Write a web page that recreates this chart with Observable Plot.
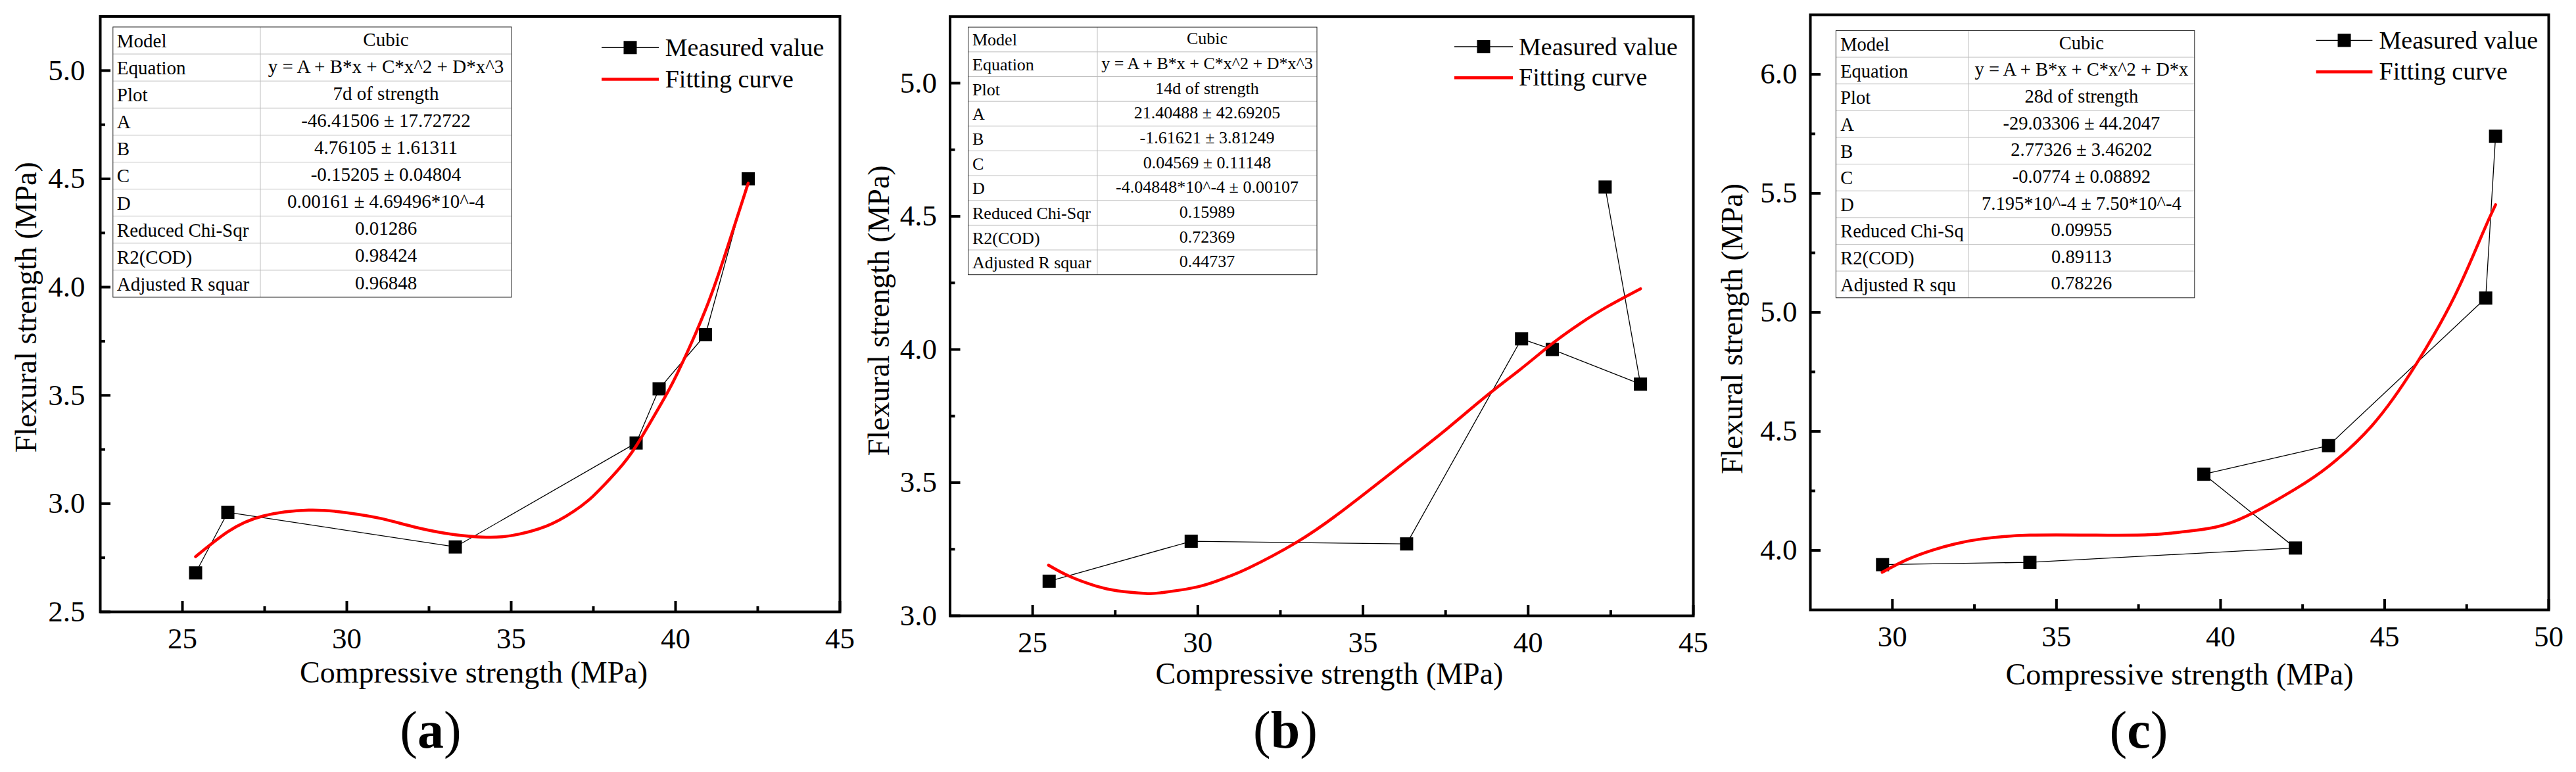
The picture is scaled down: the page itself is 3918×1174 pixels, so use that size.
<!DOCTYPE html>
<html>
<head>
<meta charset="utf-8">
<script src="https://cdn.jsdelivr.net/npm/d3@7"></script>
<script src="https://cdn.jsdelivr.net/npm/@observablehq/plot@0.6"></script>
<style>
  body { margin: 0; background: #fff; font-family: "Liberation Serif", "Times New Roman", serif; }
  #vis { display: flex; width: 3918px; height: 1174px; }
  .panel { position: relative; width: 1306px; height: 1174px; }
  .caption { position: absolute; top: 1070px; font-size: 80px; line-height: 80px; transform: translateX(-50%); white-space: nowrap; }
</style>
</head>
<body>
<div id="vis"></div>
<script>
// measured values (compressive, flexural) in plotted order
const compressive7 = [25.40, 26.38, 33.30, 38.80, 39.50, 40.91, 42.21]
const flexural7 = [2.68, 2.96, 2.80, 3.28, 3.53, 3.78, 4.50]
const compressive14 = [25.50, 29.80, 36.32, 39.80, 40.73, 43.40, 42.33]
const flexural14 = [3.13, 3.28, 3.27, 4.04, 4.00, 3.87, 4.61]
const compressive28 = [29.70, 34.19, 42.28, 39.49, 43.29, 48.08, 48.38]
const flexural28 = [3.94, 3.95, 4.01, 4.32, 4.44, 5.06, 5.74]

// fitting curves
const fitX7 = [25.40, 26.38, 27.43, 28.84, 30.00, 31.08, 32.08, 33.30, 34.24, 34.99, 36.07, 36.90, 37.50, 38.23, 38.80, 39.50, 40.06, 40.91, 41.56, 42.21]
const fitY7 = [2.755, 2.870, 2.942, 2.970, 2.958, 2.930, 2.891, 2.856, 2.845, 2.852, 2.896, 2.964, 3.036, 3.152, 3.266, 3.445, 3.603, 3.895, 4.175, 4.48]
const fitX14 = [25.48, 26.12, 26.91, 27.57, 28.43, 28.90, 30.00, 30.88, 31.53, 33.00, 34.49, 36.32, 37.54, 38.78, 39.77, 40.73, 41.58, 42.41, 43.40]
const fitY14 = [3.19, 3.148, 3.112, 3.094, 3.084, 3.087, 3.109, 3.145, 3.179, 3.277, 3.405, 3.582, 3.702, 3.830, 3.926, 4.022, 4.098, 4.162, 4.228]
const fitX28 = [29.69, 30.44, 31.24, 31.90, 32.71, 34.19, 36.21, 37.89, 39.23, 40.58, 42.28, 43.29, 44.62, 45.96, 47.14, 47.98, 48.38]
const fitY28 = [3.908, 3.961, 4.002, 4.027, 4.048, 4.064, 4.064, 4.066, 4.084, 4.131, 4.258, 4.353, 4.525, 4.782, 5.070, 5.330, 5.452]

// fit report tables
const rowLabels = ['Model', 'Equation', 'Plot', 'A', 'B', 'C', 'D', 'Reduced Chi-Sqr', 'R2(COD)', 'Adjusted R squar']
const rowLabels28 = ['Model', 'Equation', 'Plot', 'A', 'B', 'C', 'D', 'Reduced Chi-Sq', 'R2(COD)', 'Adjusted R squ']
const table7 = ['Cubic', 'y = A + B*x + C*x^2 + D*x^3', '7d of strength', '-46.41506 ± 17.72722', '4.76105 ± 1.61311', '-0.15205 ± 0.04804', '0.00161 ± 4.69496*10^-4', '0.01286', '0.98424', '0.96848']
const table14 = ['Cubic', 'y = A + B*x + C*x^2 + D*x^3', '14d of strength', '21.40488 ± 42.69205', '-1.61621 ± 3.81249', '0.04569 ± 0.11148', '-4.04848*10^-4 ± 0.00107', '0.15989', '0.72369', '0.44737']
const table28 = ['Cubic', 'y = A + B*x + C*x^2 + D*x', '28d of strength', '-29.03306 ± 44.2047', '2.77326 ± 3.46202', '-0.0774 ± 0.08892', '7.195*10^-4 ± 7.50*10^-4', '0.09955', '0.89113', '0.78226']

// axes
const xTicksA = [25, 30, 35, 40, 45]
const xMinorA = [27.5, 32.5, 37.5, 42.5]
const xTicksC = [30, 35, 40, 45, 50]
const xMinorC = [32.5, 37.5, 42.5, 47.5]
const yTicks7 = [2.5, 3.0, 3.5, 4.0, 4.5, 5.0]
const yMinor7 = [2.75, 3.25, 3.75, 4.25, 4.75]
const yTicks14 = [3.0, 3.5, 4.0, 4.5, 5.0]
const yMinor14 = [3.25, 3.75, 4.25, 4.75]
const yTicks28 = [4.0, 4.5, 5.0, 5.5, 6.0]
const yMinor28 = [4.25, 4.75, 5.25, 5.75]

const xTitle = 'Compressive strength (MPa)'
const yTitle = 'Flexural strength (MPa)'
const legendLabels = ['Measured value', 'Fitting curve']

const W = 1306
const H = 1060

const panels = [
  {
    tag: 'a', mx: compressive7, my: flexural7, fx: fitX7, fy: fitY7,
    labels: rowLabels, values: table7,
    xDomain: [22.5, 45], yDomain: [2.5, 5.25],
    xMajor: xTicksA, xMinor: xMinorA, yMajor: yTicks7, yMinor: yMinor7,
    geom: {left: 152, right: 29, top: 24.5, bottom: 130, yPad: 23, xtDx: 5.5, xtDy: 107, ytDx: -98, ytDy: -10.5, cap: 655},
    table: {x0: 171.8, x1: 396, x2: 778, y0: 41, y1: 452, font: 29, pad: 6},
    legend: {x1: 915, x2: 1002, y1: 72.3, y2: 120.5, tx: 1011.7}
  },
  {
    tag: 'b', mx: compressive14, my: flexural14, fx: fitX14, fy: fitY14,
    labels: rowLabels, values: table14,
    xDomain: [22.5, 45], yDomain: [3.0, 5.25],
    xMajor: xTicksA, xMinor: xMinorA, yMajor: yTicks14, yMinor: yMinor14,
    geom: {left: 138.5, right: 37, top: 24.7, bottom: 124, yPad: 20, xtDx: 11.7, xtDy: 103, ytDx: -93.5, ytDy: -8.5, cap: 649},
    table: {x0: 166.5, x1: 363, x2: 697, y0: 41.2, y1: 417.7, font: 26, pad: 6.5},
    legend: {x1: 906, x2: 995, y1: 71, y2: 118.3, tx: 1004}
  },
  {
    tag: 'c', mx: compressive28, my: flexural28, fx: fitX28, fy: fitY28,
    labels: rowLabels28, values: table28,
    xDomain: [27.5, 50], yDomain: [3.75, 6.25],
    xMajor: xTicksC, xMinor: xMinorC, yMajor: yTicks28, yMinor: yMinor28,
    geom: {left: 141, right: 42, top: 22, bottom: 133, yPad: 20, xtDx: 0, xtDy: 113.7, ytDx: -104, ytDy: 25, cap: 641},
    table: {x0: 180.4, x1: 382, x2: 725.8, y0: 46.4, y1: 452.8, font: 28.5, pad: 6.8},
    legend: {x1: 910.7, x2: 996.4, y1: 61.4, y2: 109.3, tx: 1006.5}
  }
]

function drawPanel(p) {
  const measured = p.mx.map((x, i) => ({x, y: p.my[i]}))
  const fit = p.fx.map((x, i) => ({x, y: p.fy[i]}))
  const g = p.geom
  // frame size, used to keep the tick marks short and pointing inward
  const fw = W - g.left - g.right
  const fh = H - g.top - g.bottom

  const chart = Plot.plot({
    width: W,
    height: H,
    marginLeft: g.left,
    marginRight: g.right,
    marginTop: g.top,
    marginBottom: g.bottom,
    x: {domain: p.xDomain},
    y: {domain: p.yDomain},
    style: {fontFamily: 'Liberation Serif', color: 'black', background: 'white', overflow: 'visible'},
    marks: [
      Plot.tickX(p.xMajor, {x: d => d, insetTop: fh - 16, stroke: 'black', strokeWidth: 4}),
      Plot.tickX(p.xMinor, {x: d => d, insetTop: fh - 8, stroke: 'black', strokeWidth: 4}),
      Plot.tickY(p.yMajor, {y: d => d, insetRight: fw - 16, stroke: 'black', strokeWidth: 4}),
      Plot.tickY(p.yMinor, {y: d => d, insetRight: fw - 8, stroke: 'black', strokeWidth: 4}),
      Plot.axisX({ticks: p.xMajor, tickSize: 0, tickPadding: 24, fontSize: 45, tickFormat: d3.format('d'), label: null}),
      Plot.axisY({ticks: p.yMajor, tickSize: 0, tickPadding: g.yPad, fontSize: 45, tickFormat: d3.format('.1f'), label: null}),
      Plot.frame({stroke: 'black', strokeWidth: 4}),
      Plot.line(measured, {x: 'x', y: 'y', stroke: 'black', strokeWidth: 1.3}),
      Plot.dot(measured, {x: 'x', y: 'y', symbol: 'square', r: 11.3, fill: 'black'}),
      Plot.line(fit, {x: 'x', y: 'y', stroke: '#ff0000', strokeWidth: 4.5, curve: 'natural'}),
      Plot.text([xTitle], {text: d => d, frameAnchor: 'bottom', lineAnchor: 'bottom', textAnchor: 'middle', dx: g.xtDx, dy: g.xtDy, fontSize: 46}),
      Plot.text([yTitle], {text: d => d, frameAnchor: 'left', lineAnchor: 'bottom', textAnchor: 'middle', rotate: -90, dx: g.ytDx, dy: g.ytDy, fontSize: 46})
    ]
  })

  const svg = d3.select(chart)

  // fit report table
  const tb = p.table
  const rowH = (tb.y1 - tb.y0) / p.labels.length
  const t = svg.append('g').attr('font-family', 'Liberation Serif').attr('font-size', tb.font).attr('fill', 'black')
  for (let i = 1; i < p.labels.length; i++) {
    t.append('line')
      .attr('x1', tb.x0).attr('x2', tb.x2)
      .attr('y1', tb.y0 + i * rowH).attr('y2', tb.y0 + i * rowH)
      .attr('stroke', '#bdbdbd').attr('stroke-width', 1)
  }
  t.append('line')
    .attr('x1', tb.x1).attr('x2', tb.x1).attr('y1', tb.y0).attr('y2', tb.y1)
    .attr('stroke', '#bdbdbd').attr('stroke-width', 1)
  t.append('rect')
    .attr('x', tb.x0).attr('y', tb.y0).attr('width', tb.x2 - tb.x0).attr('height', tb.y1 - tb.y0)
    .attr('fill', 'none').attr('stroke', '#222').attr('stroke-width', 1)
  p.labels.forEach((lab, i) => {
    const mid = tb.y0 + i * rowH + rowH / 2
    t.append('text').attr('x', tb.x0 + tb.pad).attr('y', mid + 0.36 * tb.font)
      .attr('text-anchor', 'start').text(lab)
    t.append('text').attr('x', (tb.x1 + tb.x2) / 2).attr('y', mid + 0.28 * tb.font)
      .attr('text-anchor', 'middle').text(p.values[i])
  })

  // legend
  const L = p.legend
  const lg = svg.append('g').attr('font-family', 'Liberation Serif').attr('font-size', 38)
    .attr('fill', 'black').attr('text-anchor', 'start')
  lg.append('line').attr('x1', L.x1).attr('x2', L.x2).attr('y1', L.y1).attr('y2', L.y1)
    .attr('stroke', 'black').attr('stroke-width', 1.3)
  lg.append('rect').attr('x', (L.x1 + L.x2) / 2 - 10).attr('y', L.y1 - 10).attr('width', 20).attr('height', 20)
  lg.append('text').attr('x', L.tx).attr('y', L.y1 + 13).text(legendLabels[0])
  lg.append('line').attr('x1', L.x1).attr('x2', L.x2).attr('y1', L.y2).attr('y2', L.y2)
    .attr('stroke', '#ff0000').attr('stroke-width', 4.5)
  lg.append('text').attr('x', L.tx).attr('y', L.y2 + 12).text(legendLabels[1])

  const div = d3.select('#vis').append('div').attr('class', 'panel')
  div.append(() => chart)
  const cap = div.append('div').attr('class', 'caption').style('left', g.cap + 'px')
  cap.append('span').text('(')
  cap.append('b').text(p.tag)
  cap.append('span').text(')')
}

panels.forEach(drawPanel)
</script>
</body>
</html>
